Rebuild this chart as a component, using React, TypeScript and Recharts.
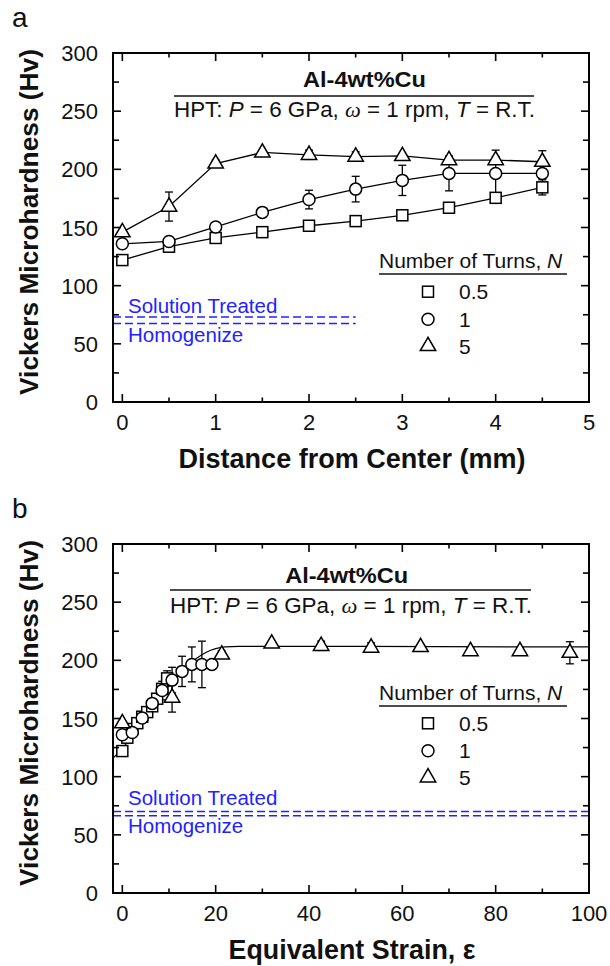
import React from 'react';
import { ComposedChart, Scatter, Line, XAxis, YAxis, ErrorBar, ReferenceLine } from 'recharts';

// ---------- data ----------
const distanceMm = [0, 0.5, 1, 1.5, 2, 2.5, 3, 3.5, 4, 4.5];
const hvTurns05 = [122, 133.5, 141, 146, 151.5, 155.5, 160.5, 167, 175.5, 184.5];
const errTurns05 = [0, 0, 0, 0, 0, 0, 0, 0, 0, 6.5];
const hvTurns1 = [136, 138, 150.5, 163, 174, 183, 190.5, 196.5, 196.5, 196.5];
const errTurns1 = [0, 0, 0, 4, 8, 11, 13, 15, 20, 4];
const hvTurns5 = [146, 168, 205, 214.5, 212.5, 211, 211.5, 208, 208, 206.5];
const errTurns5 = [0, 12.5, 3, 0, 4, 4, 0, 3, 3, 9.5];

const strainTurns05 = [0, 1.07, 2.13, 3.2, 4.26, 5.33, 6.4, 7.46, 8.53, 9.6];
const strainTurns1 = [0, 2.13, 4.26, 6.4, 8.53, 10.66, 12.8, 14.9, 17.05, 19.2];
const strainTurns5 = [0, 10.66, 21.3, 32, 42.6, 53.3, 63.9, 74.6, 85.2, 95.9];

const fitStrain = [-2, 0, 2, 4, 6, 8, 10, 12, 14, 16, 18, 20, 22, 25, 100];
const fitHv = [116, 124, 135, 146, 157, 168, 178, 187, 195, 202, 207, 210, 211.5, 212, 211.5];

const refHvA = [73, 67.5]; // solution treated, homogenized
const refHvB = [70, 66.5];
const refEndDistance = 2.5;

const distTicks = [0, 0.5, 1, 1.5, 2, 2.5, 3, 3.5, 4, 4.5, 5];
const strainTicks = [0, 10, 20, 30, 40, 50, 60, 70, 80, 90, 100];
const hvTicks = [0, 25, 50, 75, 100, 125, 150, 175, 200, 225, 250, 275, 300];
const turnLabels = ['0.5', '1', '5'];

// ---------- helpers ----------
const FONT = "'Liberation Sans', Arial, Helvetica, sans-serif";
const BLUE = '#2222ff';
const pts = (xs: number[], ys: number[], es?: number[]) =>
  xs.map((x, i) => ({ x, y: ys[i], err: es ? es[i] : 0 }));

const Square = (p: any) => (
  <rect x={p.cx - 5.5} y={p.cy - 5.5} width={11} height={11} fill="#fff" stroke="#000" strokeWidth={1.5} />
);
const Circle = (p: any) => <circle cx={p.cx} cy={p.cy} r={6} fill="#fff" stroke="#000" strokeWidth={1.5} />;
const Triangle = (p: any) => (
  <polygon
    points={`${p.cx},${p.cy - 8.7} ${p.cx - 7.7},${p.cy + 4.6} ${p.cx + 7.7},${p.cy + 4.6}`}
    fill="#fff"
    stroke="#000"
    strokeWidth={1.5}
    strokeLinejoin="miter"
  />
);
const NoShape = () => <g />;

const TICK_FS = 22;

const bottomTick = (isMajor: (v: number) => boolean) => (p: any) => {
  const { x, y, payload } = p;
  const v = payload.value;
  const m = isMajor(v);
  return (
    <g>
      <line x1={x} x2={x} y1={y} y2={y - (m ? 8 : 4.5)} stroke="#000" strokeWidth={1.6} />
      {m ? (
        <text x={x} y={y + 28} textAnchor="middle" fontSize={TICK_FS} fontFamily={FONT} fill="#111">
          {v}
        </text>
      ) : null}
    </g>
  );
};
const topTick = (isMajor: (v: number) => boolean) => (p: any) => {
  const { x, y, payload } = p;
  const m = isMajor(payload.value);
  return <line x1={x} x2={x} y1={y} y2={y + (m ? 8 : 4.5)} stroke="#000" strokeWidth={1.6} />;
};
const leftTick = (p: any) => {
  const { x, y, payload } = p;
  const v = payload.value;
  const m = v % 50 === 0;
  return (
    <g>
      <line x1={x} x2={x + (m ? 8 : 6)} y1={y} y2={y} stroke="#000" strokeWidth={1.6} />
      {m ? (
        <text x={x - 15} y={y + 8} textAnchor="end" fontSize={TICK_FS} fontFamily={FONT} fill="#111">
          {v}
        </text>
      ) : null}
    </g>
  );
};
const rightTick = (p: any) => {
  const { x, y, payload } = p;
  const m = payload.value % 50 === 0;
  return <line x1={x} x2={x - (m ? 8 : 6)} y1={y} y2={y} stroke="#000" strokeWidth={1.6} />;
};

const frame = { stroke: '#000', strokeWidth: 2, strokeLinecap: 'square' as const };
const errProps = { dataKey: 'err', direction: 'y' as const, width: 4, stroke: '#000', strokeWidth: 1.3 };
const joinLine = { stroke: '#000', strokeWidth: 1.3 };

function PanelA() {
  const isMajor = (v: number) => Number.isInteger(v);
  const series = [
    { data: pts(distanceMm, hvTurns05, errTurns05), shape: Square },
    { data: pts(distanceMm, hvTurns1, errTurns1), shape: Circle },
    { data: pts(distanceMm, hvTurns5, errTurns5), shape: Triangle },
  ];
  return (
    <ComposedChart width={610} height={483} margin={{ top: 52, right: 20, bottom: 80, left: 0 }}>
      <XAxis xAxisId="b" type="number" dataKey="x" domain={[-0.1, 5]} ticks={distTicks} interval={0} allowDataOverflow
        tickSize={0} tickMargin={0} tickLine={false} axisLine={frame} height={1} tick={bottomTick(isMajor)} />
      <XAxis xAxisId="t" orientation="top" type="number" dataKey="x" domain={[-0.1, 5]} ticks={distTicks} interval={0} allowDataOverflow
        tickSize={0} tickMargin={0} tickLine={false} axisLine={frame} height={1} tick={topTick(isMajor)} />
      <YAxis yAxisId="l" type="number" dataKey="y" domain={[0, 300]} ticks={hvTicks} interval={0} allowDataOverflow
        tickSize={0} tickMargin={0} tickLine={false} axisLine={frame} width={113} tick={leftTick} />
      <YAxis yAxisId="r" orientation="right" type="number" dataKey="y" domain={[0, 300]} ticks={hvTicks} interval={0} allowDataOverflow
        tickSize={0} tickMargin={0} tickLine={false} axisLine={frame} width={1} tick={rightTick} />
      {refHvA.map((v, i) => (
        <ReferenceLine key={i} xAxisId="b" yAxisId="l" segment={[{ x: -0.1, y: v }, { x: refEndDistance, y: v }]}
          stroke={BLUE} strokeWidth={1.5} strokeDasharray="8 4" />
      ))}
      {series.map((s, i) => (
        <Scatter key={'l' + i} xAxisId="b" yAxisId="l" data={s.data} line={joinLine} lineType="joint"
          shape={NoShape} isAnimationActive={false} />
      ))}
      {series.map((s, i) => (
        <Scatter key={'e' + i} xAxisId="b" yAxisId="l" data={s.data} shape={NoShape} isAnimationActive={false}>
          <ErrorBar {...errProps} />
        </Scatter>
      ))}
      {series.map((s, i) => (
        <Scatter key={'m' + i} xAxisId="b" yAxisId="l" data={s.data} shape={s.shape} isAnimationActive={false} />
      ))}
    </ComposedChart>
  );
}

function PanelB() {
  const isMajor = (v: number) => v % 20 === 0;
  const series = [
    { data: pts(strainTurns05, hvTurns05, errTurns05), shape: Square },
    { data: pts(strainTurns1, hvTurns1, errTurns1), shape: Circle },
    { data: pts(strainTurns5, hvTurns5, errTurns5), shape: Triangle },
  ];
  return (
    <ComposedChart width={610} height={475} margin={{ top: 52, right: 20, bottom: 72, left: 0 }}>
      <XAxis xAxisId="b" type="number" dataKey="x" domain={[-2, 100]} ticks={strainTicks} interval={0} allowDataOverflow
        tickSize={0} tickMargin={0} tickLine={false} axisLine={frame} height={1} tick={bottomTick(isMajor)} />
      <XAxis xAxisId="t" orientation="top" type="number" dataKey="x" domain={[-2, 100]} ticks={strainTicks} interval={0} allowDataOverflow
        tickSize={0} tickMargin={0} tickLine={false} axisLine={frame} height={1} tick={topTick(isMajor)} />
      <YAxis yAxisId="l" type="number" dataKey="y" domain={[0, 300]} ticks={hvTicks} interval={0} allowDataOverflow
        tickSize={0} tickMargin={0} tickLine={false} axisLine={frame} width={113} tick={leftTick} />
      <YAxis yAxisId="r" orientation="right" type="number" dataKey="y" domain={[0, 300]} ticks={hvTicks} interval={0} allowDataOverflow
        tickSize={0} tickMargin={0} tickLine={false} axisLine={frame} width={1} tick={rightTick} />
      {refHvB.map((v, i) => (
        <ReferenceLine key={i} xAxisId="b" yAxisId="l" y={v} stroke={BLUE} strokeWidth={1.5} strokeDasharray="8 4" />
      ))}
      <Line xAxisId="b" yAxisId="l" data={pts(fitStrain, fitHv)} dataKey="y" type="monotone" dot={false}
        stroke="#000" strokeWidth={1.2} isAnimationActive={false} />
      {series.map((s, i) => (
        <Scatter key={'e' + i} xAxisId="b" yAxisId="l" data={s.data} shape={NoShape} isAnimationActive={false}>
          <ErrorBar {...errProps} />
        </Scatter>
      ))}
      {series.map((s, i) => (
        <Scatter key={'m' + i} xAxisId="b" yAxisId="l" data={s.data} shape={s.shape} isAnimationActive={false} />
      ))}
    </ComposedChart>
  );
}

function Annotations({ dy, titleX, titleY, lineY, lineX1, lineX2, subY, legY, legLineY, markY, labY, blueY, xLabel, xLabelW, xLabelY, letter }: any) {
  const shapes = [Square, Circle, Triangle];
  return (
    <g fontFamily={FONT}>
      <text x={12} y={dy + 27} fontSize={28} fill="#111">{letter}</text>
      <text transform={`translate(38, ${dy + 222}) rotate(-90)`} textAnchor="middle" fontSize={26} fontWeight="bold"
        fill="#111" textLength={346} lengthAdjust="spacingAndGlyphs">Vickers Microhardness (Hv)</text>
      <text x={352} y={xLabelY} textAnchor="middle" fontSize={27} fontWeight="bold" fill="#111"
        textLength={xLabelW} lengthAdjust="spacingAndGlyphs">{xLabel}</text>
      <text x={titleX} y={titleY} textAnchor="middle" fontSize={22.5} fontWeight="bold" fill="#111"
        textLength={123} lengthAdjust="spacingAndGlyphs">Al-4wt%Cu</text>
      <line x1={lineX1} x2={lineX2} y1={lineY} y2={lineY} stroke="#111" strokeWidth={1.5} />
      <text x={lineX1} y={subY} fontSize={21.5} fill="#111" textLength={lineX2 - lineX1 + 1} lengthAdjust="spacingAndGlyphs">
        HPT: <tspan fontStyle="italic">P</tspan> = 6 GPa, <tspan fontFamily="'Liberation Serif', serif" fontStyle="italic">ω</tspan> = 1 rpm, <tspan fontStyle="italic">T</tspan> = R.T.
      </text>
      <text x={379} y={legY} fontSize={21} fill="#111">
        Number of Turns, <tspan fontStyle="italic">N</tspan>
      </text>
      <line x1={379} x2={567} y1={legLineY} y2={legLineY} stroke="#111" strokeWidth={1.5} />
      {turnLabels.map((t, i) => {
        const S = shapes[i];
        return (
          <g key={t}>
            <S cx={428} cy={markY[i]} />
            <text x={459} y={labY[i]} fontSize={21} fill="#111">{t}</text>
          </g>
        );
      })}
      <text x={128} y={blueY[0]} fontSize={20.5} fill={BLUE}>Solution Treated</text>
      <text x={128} y={blueY[1]} fontSize={20.5} fill={BLUE}>Homogenize</text>
    </g>
  );
}

export default function App() {
  return (
    <div style={{ position: 'absolute', left: 0, top: 0, width: 610, height: 966, overflow: 'hidden', background: '#fff' }}>
      <div style={{ position: 'absolute', left: 0, top: 0 }}>
        <PanelA />
      </div>
      <div style={{ position: 'absolute', left: 0, top: 491 }}>
        <PanelB />
      </div>
      <svg width={610} height={966} style={{ position: 'absolute', left: 0, top: 0, pointerEvents: 'none' }}>
        <Annotations dy={0} letter="a" titleX={364.5} titleY={86.7} lineY={96} lineX1={174} lineX2={534} subY={117.3}
          legY={268.3} legLineY={274} markY={[291.7, 319.3, 346]} labY={[299.3, 326.7, 354]} blueY={[312.7, 341.7]}
          xLabel="Distance from Center (mm)" xLabelW={347} xLabelY={468} />
        <Annotations dy={491} letter="b" titleX={346.7} titleY={582.7} lineY={590} lineX1={170} lineX2={531} subY={612.7}
          legY={700} legLineY={706} markY={[723.3, 750.7, 777.3]} labY={[730.7, 758.3, 785]} blueY={[805, 833.3]}
          xLabel="Equivalent Strain, ε" xLabelW={247} xLabelY={958.5} />
      </svg>
    </div>
  );
}
